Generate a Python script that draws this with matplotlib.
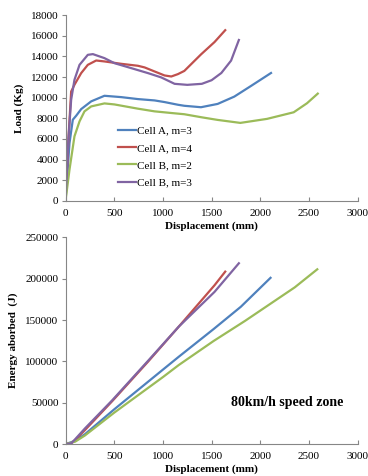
import matplotlib
matplotlib.use("Agg")
import matplotlib.pyplot as plt

plt.rcParams["font.family"] = ["Liberation Serif", "DejaVu Serif"]

labels = ["Cell A, m=3", "Cell A, m=4", "Cell B, m=2", "Cell B, m=3"]
colors = ["#4F81BD", "#C0504D", "#9BBB59", "#8064A2"]

# load vs displacement
load_x_a3 = [0, 41, 75, 110, 161, 264, 400, 572, 743, 914, 1017, 1154, 1220, 1391, 1562, 1733, 1904, 2110]
load_y_a3 = [0, 5600, 7870, 8260, 8900, 9650, 10190, 10060, 9870, 9740, 9580, 9320, 9220, 9080, 9400, 10110, 11140, 12400]
load_x_a4 = [0, 30, 58, 92, 161, 229, 315, 400, 572, 743, 812, 914, 1017, 1086, 1154, 1220, 1391, 1530, 1640]
load_y_a4 = [0, 6000, 10600, 11260, 12390, 13190, 13610, 13520, 13290, 13100, 12940, 12550, 12160, 12060, 12290, 12600, 14200, 15400, 16550]
load_x_b2 = [0, 41, 92, 144, 195, 264, 400, 503, 743, 914, 1086, 1220, 1400, 1562, 1795, 2069, 2343, 2480, 2590]
load_y_b2 = [0, 3030, 6260, 7710, 8680, 9160, 9450, 9350, 8940, 8680, 8520, 8400, 8100, 7850, 7560, 7950, 8590, 9470, 10400]
load_x_b3 = [0, 30, 58, 92, 144, 229, 281, 400, 503, 675, 846, 983, 1120, 1250, 1400, 1500, 1600, 1700, 1780]
load_y_b3 = [0, 6000, 9800, 11740, 13190, 14160, 14230, 13840, 13350, 12870, 12390, 11970, 11350, 11250, 11350, 11700, 12400, 13600, 15600]

# energy absorbed vs displacement
en_x_a3 = [0, 100, 200, 500, 1000, 1163, 1520, 1800, 2105]
en_y_a3 = [0, 4000, 12000, 42000, 90000, 105600, 139000, 166000, 201000]
en_x_a4 = [0, 60, 100, 200, 480, 850, 1163, 1530, 1640]
en_y_a4 = [0, 1000, 5000, 17000, 52000, 100000, 142000, 192000, 208500]
en_x_b2 = [0, 100, 200, 500, 1000, 1163, 1520, 1844, 2354, 2585]
en_y_b2 = [0, 3000, 10500, 38000, 81000, 95600, 124600, 149000, 189500, 211300]
en_x_b3 = [0, 60, 100, 200, 480, 850, 1163, 1530, 1780]
en_y_b3 = [0, 1000, 6000, 19000, 53000, 101000, 142000, 184000, 218600]

load_series = [(load_x_a3, load_y_a3), (load_x_a4, load_y_a4), (load_x_b2, load_y_b2), (load_x_b3, load_y_b3)]
en_series = [(en_x_a3, en_y_a3), (en_x_a4, en_y_a4), (en_x_b2, en_y_b2), (en_x_b3, en_y_b3)]

fig = plt.figure(figsize=(3.68, 4.76), dpi=100)
ax1 = fig.add_axes([0.178, 0.578, 0.794, 0.390])
ax2 = fig.add_axes([0.178, 0.067, 0.794, 0.4345])


def style(ax):
    for s in ["right", "top"]:
        ax.spines[s].set_visible(False)
    for s in ["left", "bottom"]:
        ax.spines[s].set_color("#868686")
        ax.spines[s].set_linewidth(0.8)
    ax.tick_params(axis="x", direction="in", length=3, color="#868686", labelsize=8, pad=6)
    ax.tick_params(axis="y", direction="out", length=3, color="#868686", labelsize=8, pad=2)
    ax.set_xlim(0, 3000)
    ax.set_xticks(range(0, 3001, 500))
    ax.set_xlabel("Displacement (mm)", fontsize=8, fontweight="bold", labelpad=2)


for (xs, ys), c, lab in zip(load_series, colors, labels):
    ax1.plot(xs, ys, color=c, lw=1.6, label=lab)
style(ax1)
ax1.set_ylim(0, 18000)
ax1.set_yticks(range(0, 18001, 2000))
ax1.set_ylabel("Load (Kg)", fontsize=8, fontweight="bold", labelpad=5)
ax1.legend(loc="upper left", bbox_to_anchor=(0.16, 0.435), frameon=False, fontsize=8,
           borderpad=0, handlelength=1.6, handletextpad=0.15, labelspacing=0.68)

for (xs, ys), c in zip(en_series, colors):
    ax2.plot(xs, ys, color=c, lw=1.6)
style(ax2)
ax2.set_ylim(0, 250000)
ax2.set_yticks(range(0, 250001, 50000))
ax2.set_ylabel("Energy aborbed  (J)", fontsize=8, fontweight="bold", labelpad=5)
ax2.text(1700, 50000, "80km/h speed zone", fontsize=10, fontweight="bold", va="center")

fig.savefig("out.png", dpi=100)
